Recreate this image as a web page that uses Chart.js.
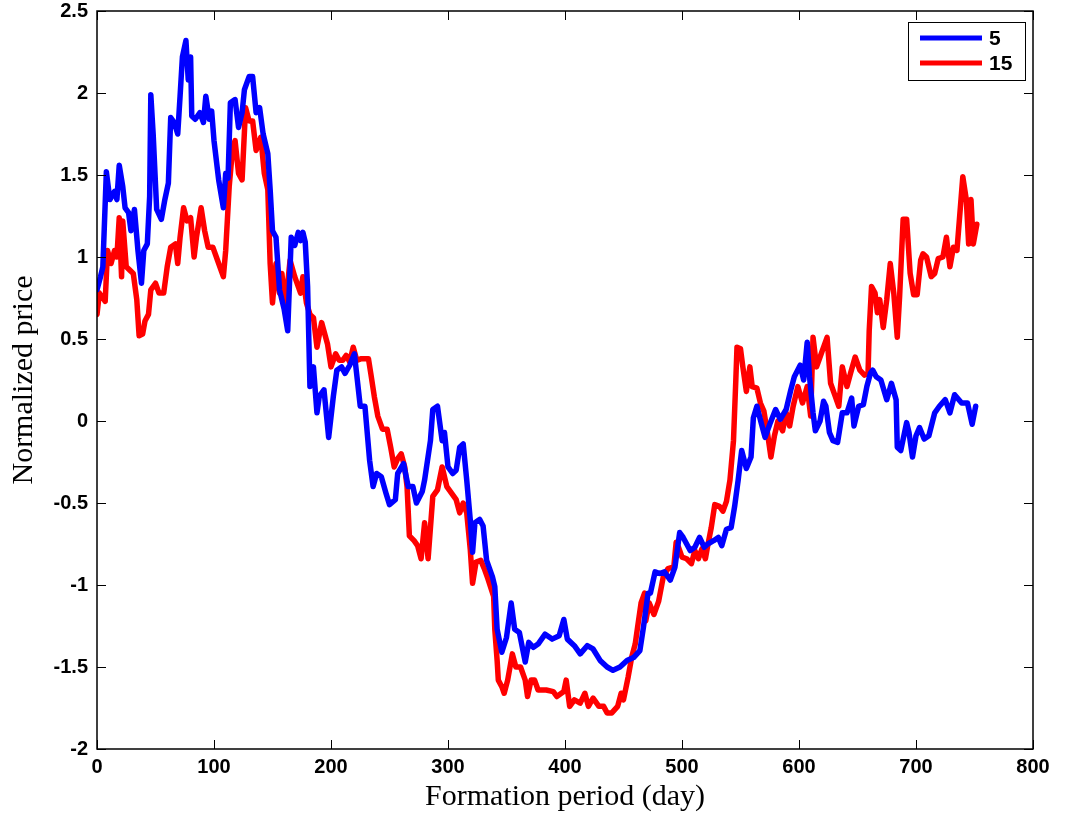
<!DOCTYPE html>
<html>
<head>
<meta charset="utf-8">
<script src="https://cdn.jsdelivr.net/npm/chart.js@4"></script>
<style>
  html, body { margin: 0; padding: 0; background: #fff; }
  #wrap { width: 1067px; height: 821px; }
</style>
</head>
<body>
<div id="wrap"><canvas id="c" width="1067" height="821"></canvas></div>
<script>
// series "5" (blue)
const days5 = [0,3,5,8,11,15,17,19,22,24,27,29,32,35,38,40,43,45,46,48,51,55,58,61,63,66,69,71,73,76,78,80,81,84,88,91,93,96,98,100,104,108,110,112,114,118,121,124,126,130,133,136,139,142,146,148,150,153,156,160,163,166,169,172,174,176,178,180,182,185,188,190,194,198,202,205,209,212,216,220,225,229,233,236,239,243,247,250,255,257,262,266,270,273,278,280,285,287,291,295,297,300,304,307,310,313,316,319,321,323,327,330,333,338,340,342,346,350,354,357,361,366,369,373,377,383,389,395,399,402,408,413,419,424,430,436,441,447,453,459,464,467,471,473,477,481,485,490,494,498,501,504,507,511,515,519,522,527,531,534,538,542,545,548,551,555,559,561,564,568,571,575,580,584,589,593,596,601,604,607,609,612,614,618,621,623,626,629,633,637,641,645,647,651,655,658,661,663,666,670,675,679,683,684,687,692,694,697,700,703,707,711,716,720,725,729,733,739,744,748,751];
const price5 = [0.80,0.88,0.94,1.52,1.35,1.40,1.35,1.56,1.43,1.30,1.27,1.16,1.29,1.04,0.84,1.04,1.08,1.37,1.99,1.75,1.29,1.23,1.35,1.45,1.85,1.82,1.75,1.98,2.22,2.32,2.08,2.22,1.86,1.84,1.88,1.82,1.98,1.84,1.89,1.71,1.47,1.30,1.51,1.48,1.94,1.96,1.79,1.88,2.02,2.10,2.10,1.88,1.91,1.75,1.63,1.41,1.16,1.12,0.80,0.68,0.55,1.12,1.07,1.15,1.10,1.15,1.09,0.82,0.21,0.33,0.05,0.15,0.19,-0.10,0.15,0.31,0.33,0.29,0.34,0.41,0.09,0.09,-0.24,-0.40,-0.32,-0.34,-0.44,-0.51,-0.48,-0.32,-0.26,-0.40,-0.40,-0.50,-0.43,-0.36,-0.12,0.07,0.09,-0.12,-0.07,-0.28,-0.32,-0.30,-0.16,-0.14,-0.36,-0.60,-0.80,-0.62,-0.60,-0.64,-0.85,-0.95,-1.01,-1.27,-1.41,-1.32,-1.11,-1.27,-1.29,-1.47,-1.35,-1.38,-1.36,-1.30,-1.33,-1.31,-1.21,-1.33,-1.37,-1.42,-1.37,-1.39,-1.46,-1.50,-1.52,-1.50,-1.46,-1.44,-1.40,-1.26,-1.05,-1.05,-0.92,-0.93,-0.92,-0.97,-0.89,-0.68,-0.71,-0.75,-0.79,-0.77,-0.71,-0.77,-0.75,-0.73,-0.71,-0.76,-0.66,-0.65,-0.52,-0.36,-0.18,-0.29,-0.22,0.02,0.09,-0.02,-0.10,-0.02,0.07,0.01,0.07,0.19,0.27,0.34,0.25,0.48,0.27,0.05,-0.06,0.00,0.12,0.09,-0.07,-0.12,-0.13,0.05,0.05,0.14,-0.03,0.09,0.10,0.21,0.29,0.31,0.27,0.25,0.13,0.23,0.13,-0.16,-0.18,-0.01,-0.07,-0.22,-0.09,-0.04,-0.11,-0.09,0.05,0.09,0.13,0.05,0.16,0.11,0.11,-0.02,0.09];

// series "15" (red)
const days15 = [0,2,5,7,9,12,15,17,19,21,22,25,28,31,34,36,39,41,44,46,50,53,57,60,63,67,69,71,74,77,80,83,85,89,92,95,99,103,108,110,113,116,118,121,124,127,130,133,136,140,143,146,148,150,153,156,158,161,165,169,174,176,179,182,185,188,192,197,200,204,207,210,213,216,219,222,226,232,234,237,240,244,248,251,254,257,260,263,265,267,271,274,277,280,283,287,291,295,299,303,307,310,313,316,319,321,324,328,331,334,339,340,342,343,346,348,351,355,358,362,366,368,371,374,377,384,390,393,399,401,404,408,413,417,420,424,429,433,436,440,445,448,450,454,457,460,462,465,468,469,472,476,480,484,488,493,495,497,500,504,508,511,514,517,520,522,525,528,532,535,538,541,544,546,547,550,552,555,558,560,564,567,570,573,576,579,582,586,589,592,595,599,603,607,610,612,615,618,621,624,627,631,634,637,641,644,648,652,656,659,660,662,665,667,669,672,675,678,681,684,686,689,692,695,698,701,704,706,709,713,716,719,723,726,729,732,735,738,740,743,745,747,749,752];
const price15 = [0.65,0.78,0.75,0.73,1.04,0.96,1.04,1.00,1.24,0.88,1.22,0.94,0.92,0.90,0.74,0.52,0.53,0.61,0.65,0.80,0.84,0.78,0.78,0.94,1.06,1.08,0.96,1.12,1.30,1.22,1.24,1.00,1.12,1.30,1.16,1.06,1.06,0.98,0.88,1.04,1.43,1.67,1.71,1.51,1.47,1.91,1.83,1.83,1.65,1.73,1.51,1.41,0.96,0.72,0.96,0.78,0.90,0.70,0.98,0.88,0.78,0.88,0.72,0.65,0.63,0.45,0.60,0.47,0.33,0.41,0.37,0.37,0.40,0.36,0.45,0.37,0.38,0.38,0.29,0.15,0.03,-0.05,-0.05,-0.16,-0.28,-0.23,-0.20,-0.28,-0.40,-0.70,-0.73,-0.76,-0.84,-0.62,-0.84,-0.46,-0.42,-0.28,-0.40,-0.44,-0.48,-0.56,-0.50,-0.56,-0.78,-0.99,-0.86,-0.85,-0.90,-0.96,-1.07,-1.27,-1.46,-1.58,-1.62,-1.66,-1.58,-1.42,-1.50,-1.50,-1.58,-1.68,-1.58,-1.58,-1.64,-1.64,-1.65,-1.68,-1.65,-1.58,-1.74,-1.70,-1.72,-1.66,-1.74,-1.69,-1.74,-1.74,-1.78,-1.78,-1.74,-1.66,-1.70,-1.56,-1.44,-1.36,-1.26,-1.11,-1.05,-1.22,-1.11,-1.18,-1.10,-0.95,-0.90,-0.89,-0.74,-0.77,-0.83,-0.84,-0.87,-0.79,-0.84,-0.78,-0.84,-0.76,-0.65,-0.51,-0.52,-0.55,-0.49,-0.36,-0.12,0.25,0.45,0.44,0.33,0.18,0.33,0.21,0.20,0.11,0.06,-0.07,-0.22,-0.09,0.00,-0.06,0.05,-0.03,0.09,0.21,0.11,0.21,0.03,0.51,0.33,0.39,0.45,0.51,0.23,0.15,0.09,0.33,0.21,0.29,0.39,0.31,0.28,0.29,0.55,0.82,0.78,0.66,0.74,0.57,0.74,0.96,0.78,0.51,0.76,1.23,1.23,0.90,0.77,0.77,0.98,1.02,1.00,0.88,0.90,0.99,1.00,1.12,0.94,1.06,1.04,1.31,1.49,1.35,1.08,1.35,1.08,1.20];

const xTicks = [0,100,200,300,400,500,600,700,800];
const yTicks = [-2,-1.5,-1,-0.5,0,0.5,1,1.5,2,2.5];

function pts(xs, ys) {
  return xs.map((x, i) => ({ x: x, y: ys[i] }));
}

// box, inward ticks on all four sides, and a boxed legend
const frame = {
  id: 'frame',
  afterDatasetsDraw(chart) {
    const { ctx, chartArea: a, scales } = chart;
    ctx.save();
    ctx.strokeStyle = '#000';
    ctx.lineWidth = 1;
    ctx.beginPath();
    xTicks.forEach(v => {
      const px = Math.round(scales.x.getPixelForValue(v)) + 0.5;
      ctx.moveTo(px, a.bottom); ctx.lineTo(px, a.bottom - 9);
      ctx.moveTo(px, a.top); ctx.lineTo(px, a.top + 9);
    });
    yTicks.forEach(v => {
      const py = Math.round(scales.y.getPixelForValue(v)) + 0.5;
      ctx.moveTo(a.left, py); ctx.lineTo(a.left + 9, py);
      ctx.moveTo(a.right, py); ctx.lineTo(a.right - 9, py);
    });
    ctx.stroke();
    ctx.lineWidth = 1.5;
    ctx.strokeRect(a.left, a.top, a.right - a.left, a.bottom - a.top);

    // legend
    const lx = 908, ly = 22, lw = 117, lh = 58;
    ctx.fillStyle = '#fff';
    ctx.fillRect(lx, ly, lw, lh);
    ctx.lineWidth = 1;
    ctx.strokeRect(lx + 0.5, ly + 0.5, lw, lh);
    ctx.font = 'bold 21px "Liberation Sans", Arial, sans-serif';
    ctx.textBaseline = 'middle';
    chart.data.datasets.forEach((ds, i) => {
      const y = ly + 16 + i * 25;
      ctx.strokeStyle = ds.borderColor;
      ctx.lineWidth = 5;
      ctx.beginPath();
      ctx.moveTo(lx + 12, y); ctx.lineTo(lx + 74, y);
      ctx.stroke();
      ctx.fillStyle = '#000';
      ctx.fillText(ds.label, lx + 81, y + 1);
    });
    ctx.restore();
  }
};

const tickFont = { family: '"Liberation Sans", Arial, sans-serif', size: 20, weight: 'bold' };
const titleFont = { family: '"Liberation Serif", "Times New Roman", serif', size: 30 };

new Chart(document.getElementById('c'), {
  type: 'line',
  data: {
    datasets: [
      { label: '5', data: pts(days5, price5), borderColor: '#0000ff', borderWidth: 5.5,
        pointRadius: 0, tension: 0, borderJoinStyle: 'round', borderCapStyle: 'round' },
      { label: '15', data: pts(days15, price15), borderColor: '#ff0000', borderWidth: 5.5,
        pointRadius: 0, tension: 0, borderJoinStyle: 'round', borderCapStyle: 'round' }
    ]
  },
  options: {
    responsive: false,
    animation: false,
    layout: { padding: { top: 11, right: 34, left: 6, bottom: 0 } },
    plugins: { legend: { display: false }, tooltip: { enabled: false } },
    scales: {
      x: {
        type: 'linear', min: 0, max: 800,
        grid: { display: false, drawTicks: false }, border: { display: false },
        afterBuildTicks: s => { s.ticks = xTicks.map(v => ({ value: v })); },
        afterFit: s => { s.height = 72; s.paddingLeft = 0; s.paddingRight = 0; },
        ticks: { color: '#000', padding: 6, maxRotation: 0, font: tickFont },
        title: { display: true, text: 'Formation period (day)', color: '#000',
          padding: { top: 0, bottom: 6 }, font: titleFont }
      },
      y: {
        type: 'linear', min: -2, max: 2.5,
        grid: { display: false, drawTicks: false }, border: { display: false },
        afterBuildTicks: s => { s.ticks = yTicks.map(v => ({ value: v })); },
        afterFit: s => { s.width = 91; s.paddingTop = 0; s.paddingBottom = 0; },
        ticks: { color: '#000', padding: 9, font: tickFont, callback: v => String(v) },
        title: { display: true, text: 'Normalized price', color: '#000',
          padding: { top: 0, bottom: 0 }, font: titleFont }
      }
    }
  },
  plugins: [frame]
});
</script>
</body>
</html>
